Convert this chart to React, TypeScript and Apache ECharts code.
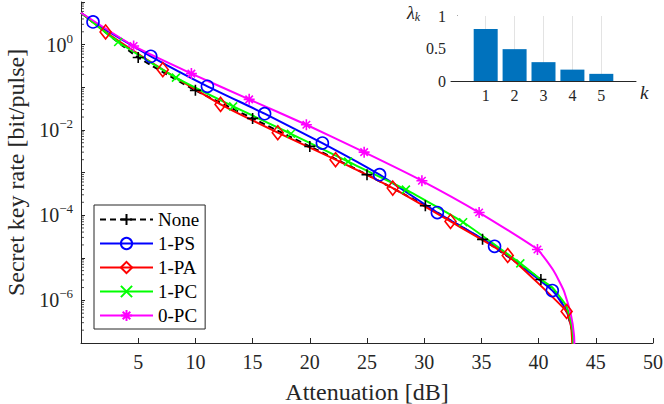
import React, { useEffect, useRef } from "react";
import * as echarts from "echarts";

const FONT = "Liberation Serif";
const AXIS_COLOR = "#262626";

const seriesNames = ["None", "1-PS", "1-PA", "1-PC", "0-PC"];
const seriesColors = ["#000000", "#0000ff", "#ff0000", "#00ff00", "#ff00ff"];

// Secret key rate curves (x = attenuation dB, y = bit/pulse)
const noneX = [0, 5, 10, 15, 20, 25, 30.1, 35.1, 40.2, 41.5, 42.5, 43.0, 43.05];
const noneY = [5.6, 0.5, 0.0845, 0.0186, 0.0041, 8.9e-4, 1.66e-4, 2.7e-5, 3.1e-6, 1.5e-6, 5e-7, 1.6e-7, 5e-8];
const noneMarkers = [1, 2, 3, 4, 5, 6, 7, 8];

const psX = [0, 1.05, 6.1, 11.05, 16.05, 21.1, 26.1, 31.15, 36.15, 41.2, 42.4, 42.9, 43.05];
const psY = [5.6, 3.4, 0.53, 0.105, 0.024, 0.0049, 8.9e-4, 1.15e-4, 1.85e-5, 1.7e-6, 6e-7, 2.2e-7, 5e-8];
const psMarkers = [1, 2, 3, 4, 5, 6, 7, 8, 9];

const paX = [0, 2.15, 7.15, 12.2, 17.2, 22.25, 27.25, 32.3, 37.3, 42.45, 42.85, 43.0];
const paY = [5.6, 1.98, 0.259, 0.0396, 0.0086, 0.002, 4.3e-4, 7.1e-5, 1.13e-5, 5.5e-7, 2.3e-7, 5e-8];
const paMarkers = [1, 2, 3, 4, 5, 6, 7, 8, 9];

const pcX = [0, 3.25, 8.3, 13.3, 18.35, 23.35, 28.4, 33.4, 38.4, 40.2, 41.2, 42.4, 42.8, 43.0, 43.05];
const pcY = [5.6, 1.15, 0.168, 0.0356, 0.0081, 0.0018, 3.97e-4, 6.8e-5, 7.4e-6, 3.1e-6, 2e-6, 7.6e-7, 3.4e-7, 1.66e-7, 5e-8];
const pcMarkers = [1, 2, 3, 4, 5, 6, 7, 8];

const zpcX = [0, 4.6, 9.65, 14.7, 19.7, 24.75, 29.8, 34.8, 39.9, 41.3, 42.2, 42.8, 43.1, 43.15];
const zpcY = [5.6, 0.93, 0.209, 0.052, 0.0132, 0.003, 6.4e-4, 1.15e-4, 1.56e-5, 5e-6, 1.7e-6, 5e-7, 1.5e-7, 5e-8];
const zpcMarkers = [1, 2, 3, 4, 5, 6, 7, 8];

// Inset: eigenvalues
const barK = [1, 2, 3, 4, 5];
const barLambda = [0.8, 0.49, 0.29, 0.175, 0.11];

// Axis ranges / ticks
const xMainMin = 0;
const xMainMax = 50;
const yMainMin = 1e-7;
const yMainMax = 10;
const minorMultipliers = [2, 3, 4, 5, 6, 7, 8, 9];
const minorDecades = [-7, -6, -5, -4, -3, -2, -1, 0];

const SYM_PLUS = "path://M5,0L5,10M0,5L10,5";
const SYM_CROSS = "path://M0,0L10,10M10,0L0,10";
const SYM_STAR = "path://M5,0L5,10M0,5L10,5M1.6,1.6L8.4,8.4M8.4,1.6L1.6,8.4";

function buildLine(
  name: string,
  color: string,
  xs: number[],
  ys: number[],
  markers: number[],
  symbol: string,
  symbolSize: number | number[],
  dashed: boolean
) {
  const data = xs.map((x, i) =>
    markers.indexOf(i) >= 0
      ? { value: [x, ys[i]] }
      : { value: [x, ys[i]], symbol: "none" }
  );
  return {
    name,
    type: "line",
    xAxisIndex: 0,
    yAxisIndex: 0,
    data,
    smooth: 0.15,
    symbol,
    symbolSize,
    showSymbol: true,
    clip: true,
    lineStyle: { color, width: 2, type: dashed ? [6, 4] : "solid" },
    itemStyle: { color: "rgba(0,0,0,0)", borderColor: color, borderWidth: 1.6 },
    emphasis: { disabled: true },
  };
}

export default function App() {
  const ref = useRef<HTMLDivElement>(null);

  useEffect(() => {
    if (!ref.current) return;
    const chart = echarts.init(ref.current, undefined, { renderer: "svg" });

    const minorData: number[][] = [];
    minorDecades.forEach((e) =>
      minorMultipliers.forEach((m) => minorData.push([xMainMin, m * Math.pow(10, e)]))
    );

    const option: any = {
      animation: false,
      textStyle: { fontFamily: FONT },
      grid: [
        { left: 81, top: 2, width: 572, height: 341, outerBoundsMode: "none", containLabel: false },
        {
          left: 451, top: 16, width: 185, height: 65, show: true, backgroundColor: "#ffffff", borderWidth: 0, z: 3,
          outerBoundsMode: "none", containLabel: false,
        },
      ],
      graphic: [
        {
          type: "text",
          left: 407,
          top: 4,
          z: 10,
          style: {
            text: "{l|\u03bb}{s|k}",
            rich: {
              l: { fontFamily: FONT, fontSize: 18, fontStyle: "italic", fill: AXIS_COLOR, lineHeight: 20 },
              s: { fontFamily: FONT, fontSize: 12, fontStyle: "italic", fill: AXIS_COLOR, verticalAlign: "bottom", lineHeight: 12 },
            },
          },
        },
      ],
      legend: {
        data: seriesNames,
        orient: "vertical",
        left: 94,
        top: 205,
        itemWidth: 53,
        itemHeight: 14,
        itemGap: 5,
        padding: [5, 6, 4, 5],
        borderColor: AXIS_COLOR,
        borderWidth: 1,
        backgroundColor: "#ffffff",
        textStyle: { fontFamily: FONT, fontSize: 19, color: "#000" },
      },
      xAxis: [
        {
          type: "value",
          gridIndex: 0,
          min: xMainMin,
          max: xMainMax,
          interval: 5,
          name: "Attenuation [dB]",
          nameLocation: "middle",
          nameGap: 37,
          nameTextStyle: { fontFamily: FONT, fontSize: 24, color: AXIS_COLOR },
          axisLine: { show: true, onZero: false, lineStyle: { color: AXIS_COLOR, width: 1 } },
          axisTick: { show: true, inside: true, length: 5, lineStyle: { color: AXIS_COLOR } },
          axisLabel: {
            fontFamily: FONT,
            fontSize: 20,
            color: AXIS_COLOR,
            margin: 9,
            formatter: (v: number) => (v === 0 ? "" : String(v)),
          },
          splitLine: { show: false },
        },
        {
          type: "value",
          gridIndex: 1,
          min: -0.2,
          max: 6.2,
          name: "k",
          nameLocation: "end",
          nameGap: 4,
          nameTextStyle: { fontFamily: FONT, fontSize: 19, fontStyle: "italic", color: AXIS_COLOR, verticalAlign: "top", padding: [2, 0, 0, 0] },
          axisLine: { show: true, lineStyle: { color: AXIS_COLOR } },
          axisTick: { show: false, customValues: barK },
          axisLabel: { fontFamily: FONT, fontSize: 16, color: AXIS_COLOR, margin: 6, customValues: barK },
          splitLine: { show: false },
        },
      ],
      yAxis: [
        {
          type: "log",
          logBase: 10,
          gridIndex: 0,
          min: yMainMin,
          max: yMainMax,
          name: "Secret key rate [bit/pulse]",
          nameLocation: "middle",
          nameGap: 53,
          nameTextStyle: { fontFamily: FONT, fontSize: 24, color: AXIS_COLOR },
          axisLine: { show: true, lineStyle: { color: AXIS_COLOR, width: 1 } },
          axisTick: { show: true, inside: true, length: 4, lineStyle: { color: AXIS_COLOR } },
          axisLabel: {
            margin: 8,
            color: AXIS_COLOR,
            formatter: (v: number) => {
              const e = Math.round(Math.log10(v));
              if (e % 2 !== 0) return "";
              return "{b|10}{s|" + (e < 0 ? "\u2212" + -e : String(e)) + "}";
            },
            rich: {
              b: { fontFamily: FONT, fontSize: 20, color: AXIS_COLOR, lineHeight: 26 },
              s: { fontFamily: FONT, fontSize: 13, color: AXIS_COLOR, verticalAlign: "top", lineHeight: 14 },
            },
          },
          splitLine: { show: false },
        },
        {
          type: "value",
          gridIndex: 1,
          min: 0,
          max: 1,
          interval: 0.5,
          axisLine: { show: true, lineStyle: { color: AXIS_COLOR } },
          axisTick: { show: false },
          axisLabel: { fontFamily: FONT, fontSize: 16, color: AXIS_COLOR, margin: 5 },
          splitLine: { show: true, lineStyle: { color: "#e3e3e3" } },
        },
      ],
      series: [
        {
          type: "custom",
          name: "minorTicks",
          xAxisIndex: 0,
          yAxisIndex: 0,
          silent: true,
          data: minorData,
          renderItem: (_params: any, api: any) => {
            const p = api.coord([api.value(0), api.value(1)]);
            return {
              type: "line",
              shape: { x1: p[0], y1: p[1], x2: p[0] + 3, y2: p[1] },
              style: { stroke: AXIS_COLOR, lineWidth: 0.8 },
            };
          },
        },
        buildLine(seriesNames[0], seriesColors[0], noneX, noneY, noneMarkers, SYM_PLUS, 11, true),
        buildLine(seriesNames[1], seriesColors[1], psX, psY, psMarkers, "circle", 12, false),
        buildLine(seriesNames[2], seriesColors[2], paX, paY, paMarkers, "diamond", [11, 14], false),
        buildLine(seriesNames[3], seriesColors[3], pcX, pcY, pcMarkers, SYM_CROSS, 8, false),
        buildLine(seriesNames[4], seriesColors[4], zpcX, zpcY, zpcMarkers, SYM_STAR, 11, false),
        {
          type: "bar",
          name: "lambda",
          xAxisIndex: 1,
          yAxisIndex: 1,
          data: barK.map((k, i) => [k, barLambda[i]]),
          barWidth: 24,
          itemStyle: { color: "#0072bd" },
          z: 6,
          markLine: {
            silent: true,
            symbol: "none",
            z: 4,
            label: { show: false },
            lineStyle: { color: "#e3e3e3", type: "solid", width: 1 },
            data: barK.map((k) => ({ xAxis: k })),
          },
        },
      ],
    };

    chart.setOption(option);
    return () => chart.dispose();
  }, []);

  return (
    <div
      ref={ref}
      style={{ position: "fixed", left: 0, top: 0, width: 664, height: 404, background: "#fff" }}
    />
  );
}
